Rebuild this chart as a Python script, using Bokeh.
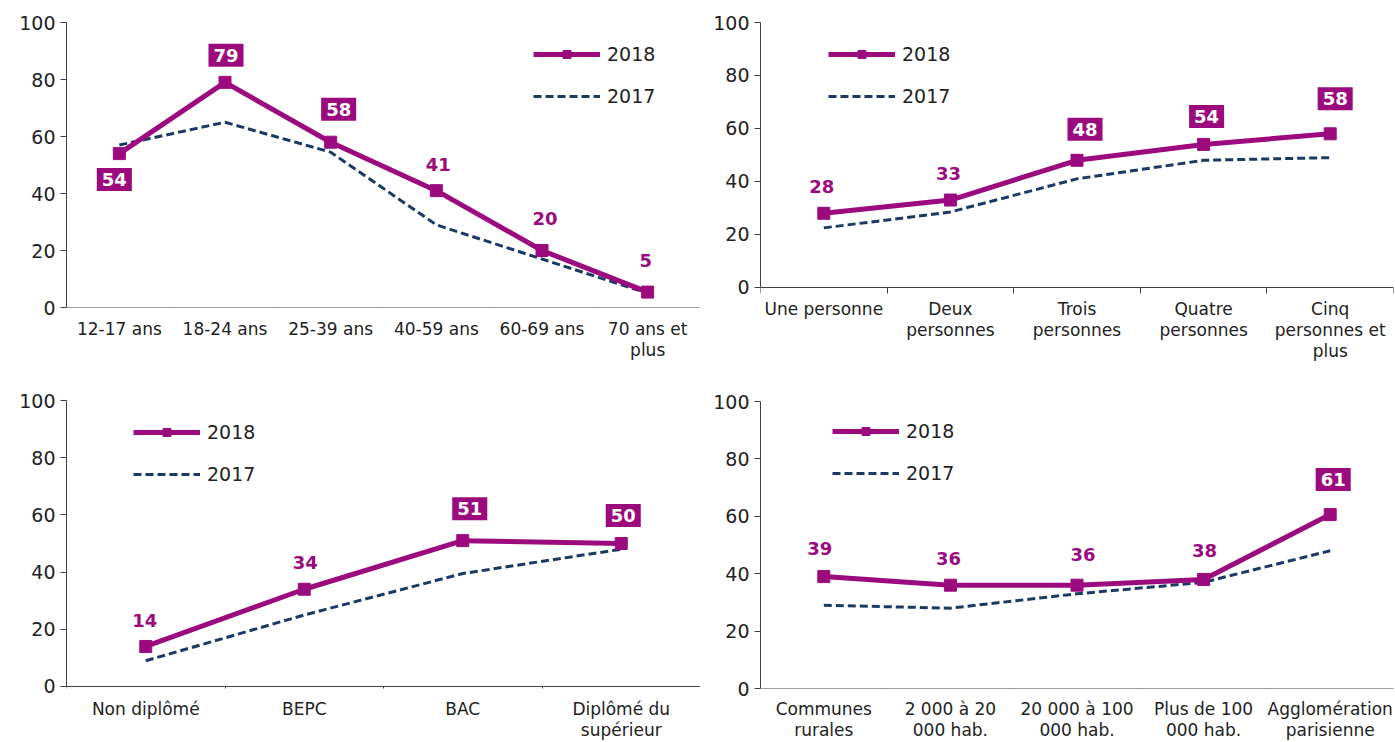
from bokeh.plotting import figure
from bokeh.models import (Range1d, FixedTicker, Legend, LegendItem, ColumnDataSource,
                          LinearAxis)
from bokeh.layouts import column, row
from bokeh.embed import file_html
from bokeh.resources import INLINE
from bokeh.core.properties import value

# ---------------- data ----------------
age_cats = ["12-17 ans", "18-24 ans", "25-39 ans", "40-59 ans", "60-69 ans", "70 ans et\nplus"]
age_2018 = [54, 79, 58, 41, 20, 5.4]
age_2017 = [57, 65, 54.5, 29, 17, 5]

hh_cats = ["Une personne", "Deux\npersonnes", "Trois\npersonnes", "Quatre\npersonnes", "Cinq\npersonnes et\nplus"]
hh_2018 = [28, 33, 48, 54, 58]
hh_2017 = [22.5, 28.5, 41, 48, 49]

edu_cats = ["Non diplômé", "BEPC", "BAC", "Diplômé du\nsupérieur"]
edu_2018 = [14, 34, 51, 50]
edu_2017 = [9, 25, 39.5, 48]

city_cats = ["Communes\nrurales", "2 000 à 20\n000 hab.", "20 000 à 100\n000 hab.", "Plus de 100\n000 hab.", "Agglomération\nparisienne"]
city_2018 = [39, 36, 36, 38, 60.6]
city_2017 = [29, 28, 33, 37, 48]

series_names = ["2018", "2017"]
y_ticks = [0, 20, 40, 60, 80, 100]

# ---------------- styles ----------------
PURPLE = "#9B0B7E"
NAVY = "#1B3A63"
FONT = "DejaVu Sans"
AXIS = "#404040"
TXT = "#222222"


def make_panel(cats, v18, v17, boxed, offs, W, H, bl, bt, bb, br, yr, lab_standoff, leg_xy):
    n = len(cats)
    xs = list(range(n))
    p = figure(width=W, height=H, output_backend="svg", toolbar_location=None,
               x_range=Range1d(-0.5, n - 0.5), y_range=Range1d(yr[0], yr[1]),
               x_axis_location=None,
               min_border_left=bl, min_border_top=bt, min_border_right=br,
               min_border_bottom=bb)
    p.outline_line_color = None
    p.xgrid.visible = False
    p.ygrid.visible = False

    # x axis line + boundary tick marks, pinned at y = 0
    line_axis = LinearAxis(fixed_location=0,
                           ticker=FixedTicker(ticks=[], minor_ticks=[i - 0.5 for i in range(n + 1)]),
                           major_tick_out=0, major_tick_in=0,
                           minor_tick_out=6, minor_tick_in=0,
                           minor_tick_line_color=AXIS, axis_line_color=AXIS,
                           major_label_text_font_size="0px")
    p.add_layout(line_axis, "below")

    # category labels centred under each category
    label_axis = LinearAxis(ticker=FixedTicker(ticks=xs),
                            major_label_overrides={i: c for i, c in zip(xs, cats)},
                            axis_line_color=None, major_tick_line_color=None,
                            minor_tick_line_color=None,
                            major_tick_out=0, major_tick_in=0,
                            minor_tick_out=0, minor_tick_in=0,
                            major_label_standoff=lab_standoff,
                            major_label_text_font=FONT,
                            major_label_text_font_size="17px",
                            major_label_text_line_height=1.05,
                            major_label_text_color=TXT)
    p.add_layout(label_axis, "below")

    p.yaxis.bounds = (0, 100)
    p.yaxis.ticker = FixedTicker(ticks=y_ticks)
    p.yaxis.major_tick_out = 6
    p.yaxis.major_tick_in = 0
    p.yaxis.minor_tick_out = 0
    p.yaxis.minor_tick_in = 0
    p.yaxis.major_tick_line_color = AXIS
    p.yaxis.axis_line_color = AXIS
    p.yaxis.major_label_standoff = 5
    p.yaxis.major_label_text_font = FONT
    p.yaxis.major_label_text_font_size = "19px"
    p.yaxis.major_label_text_color = TXT

    r17 = p.line(xs, v17, line_color=NAVY, line_width=3, line_dash="8 4")
    r18 = p.line(xs, v18, line_color=PURPLE, line_width=5, line_join="round")
    s18 = p.scatter(xs, v18, marker="square", size=12, fill_color=PURPLE, line_color=PURPLE)

    labels = [f"{v:.0f}" for v in v18]
    for want_box in (True, False):
        idx = [i for i in range(n) if boxed[i] == want_box]
        if not idx:
            continue
        src = ColumnDataSource(dict(
            x=[xs[i] for i in idx], y=[v18[i] for i in idx], t=[labels[i] for i in idx],
            dx=[offs[i][0] for i in idx], dy=[offs[i][1] for i in idx]))
        kw = dict(x="x", y="y", text="t", x_offset="dx", y_offset="dy", source=src,
                  text_font=value(FONT), text_font_style="bold", text_font_size="18px",
                  text_align="center", text_baseline="middle")
        if want_box:
            p.text(text_color="white", background_fill_color=PURPLE, padding=5, **kw)
        else:
            p.text(text_color=PURPLE, **kw)

    legend = Legend(items=[LegendItem(label=series_names[0], renderers=[r18, s18]),
                           LegendItem(label=series_names[1], renderers=[r17])],
                    location=leg_xy, orientation="vertical", glyph_width=67, glyph_height=20,
                    label_height=20, spacing=20, padding=0, margin=0,
                    border_line_color=None, background_fill_alpha=0,
                    label_text_font=FONT, label_text_font_size="19px",
                    label_text_color=TXT, label_standoff=7)
    p.add_layout(legend)
    return p


# frames: top row 22..307 px, bottom row 400..688 px
p1 = make_panel(age_cats, age_2018, age_2017,
                [True, True, True, False, False, False],
                [(-5, 26), (1, -27), (8, -33), (2, -26), (3, -32), (-2, -32)],
                700, 370, 66, 22, 63, 0, (0, 100), 11, (467, 200))
p2 = make_panel(hh_cats, hh_2018, hh_2017,
                [False, False, True, True, True],
                [(-2, -27), (-2, -27), (8, -31), (3, -28), (5, -35)],
                695, 370, 60, 22, 63, 2, (-7.55, 100), -9, (68, 200))
p3 = make_panel(edu_cats, edu_2018, edu_2017,
                [False, False, True, True],
                [(-1, -26), (1, -27), (7, -32), (2, -28)],
                700, 372, 66, 30, 54, 0, (-0.7, 100), 10, (67, 203))
p4 = make_panel(city_cats, city_2018, city_2017,
                [False, False, False, False, True],
                [(-4, -28), (-2, -27), (6, -31), (1, -29), (3, -35)],
                695, 372, 60, 30, 54, 2, (0, 100.35), 10, (72, 204))

layout = column(row(p1, p2), row(p3, p4))
open("out.html", "w").write(file_html(layout, INLINE))
